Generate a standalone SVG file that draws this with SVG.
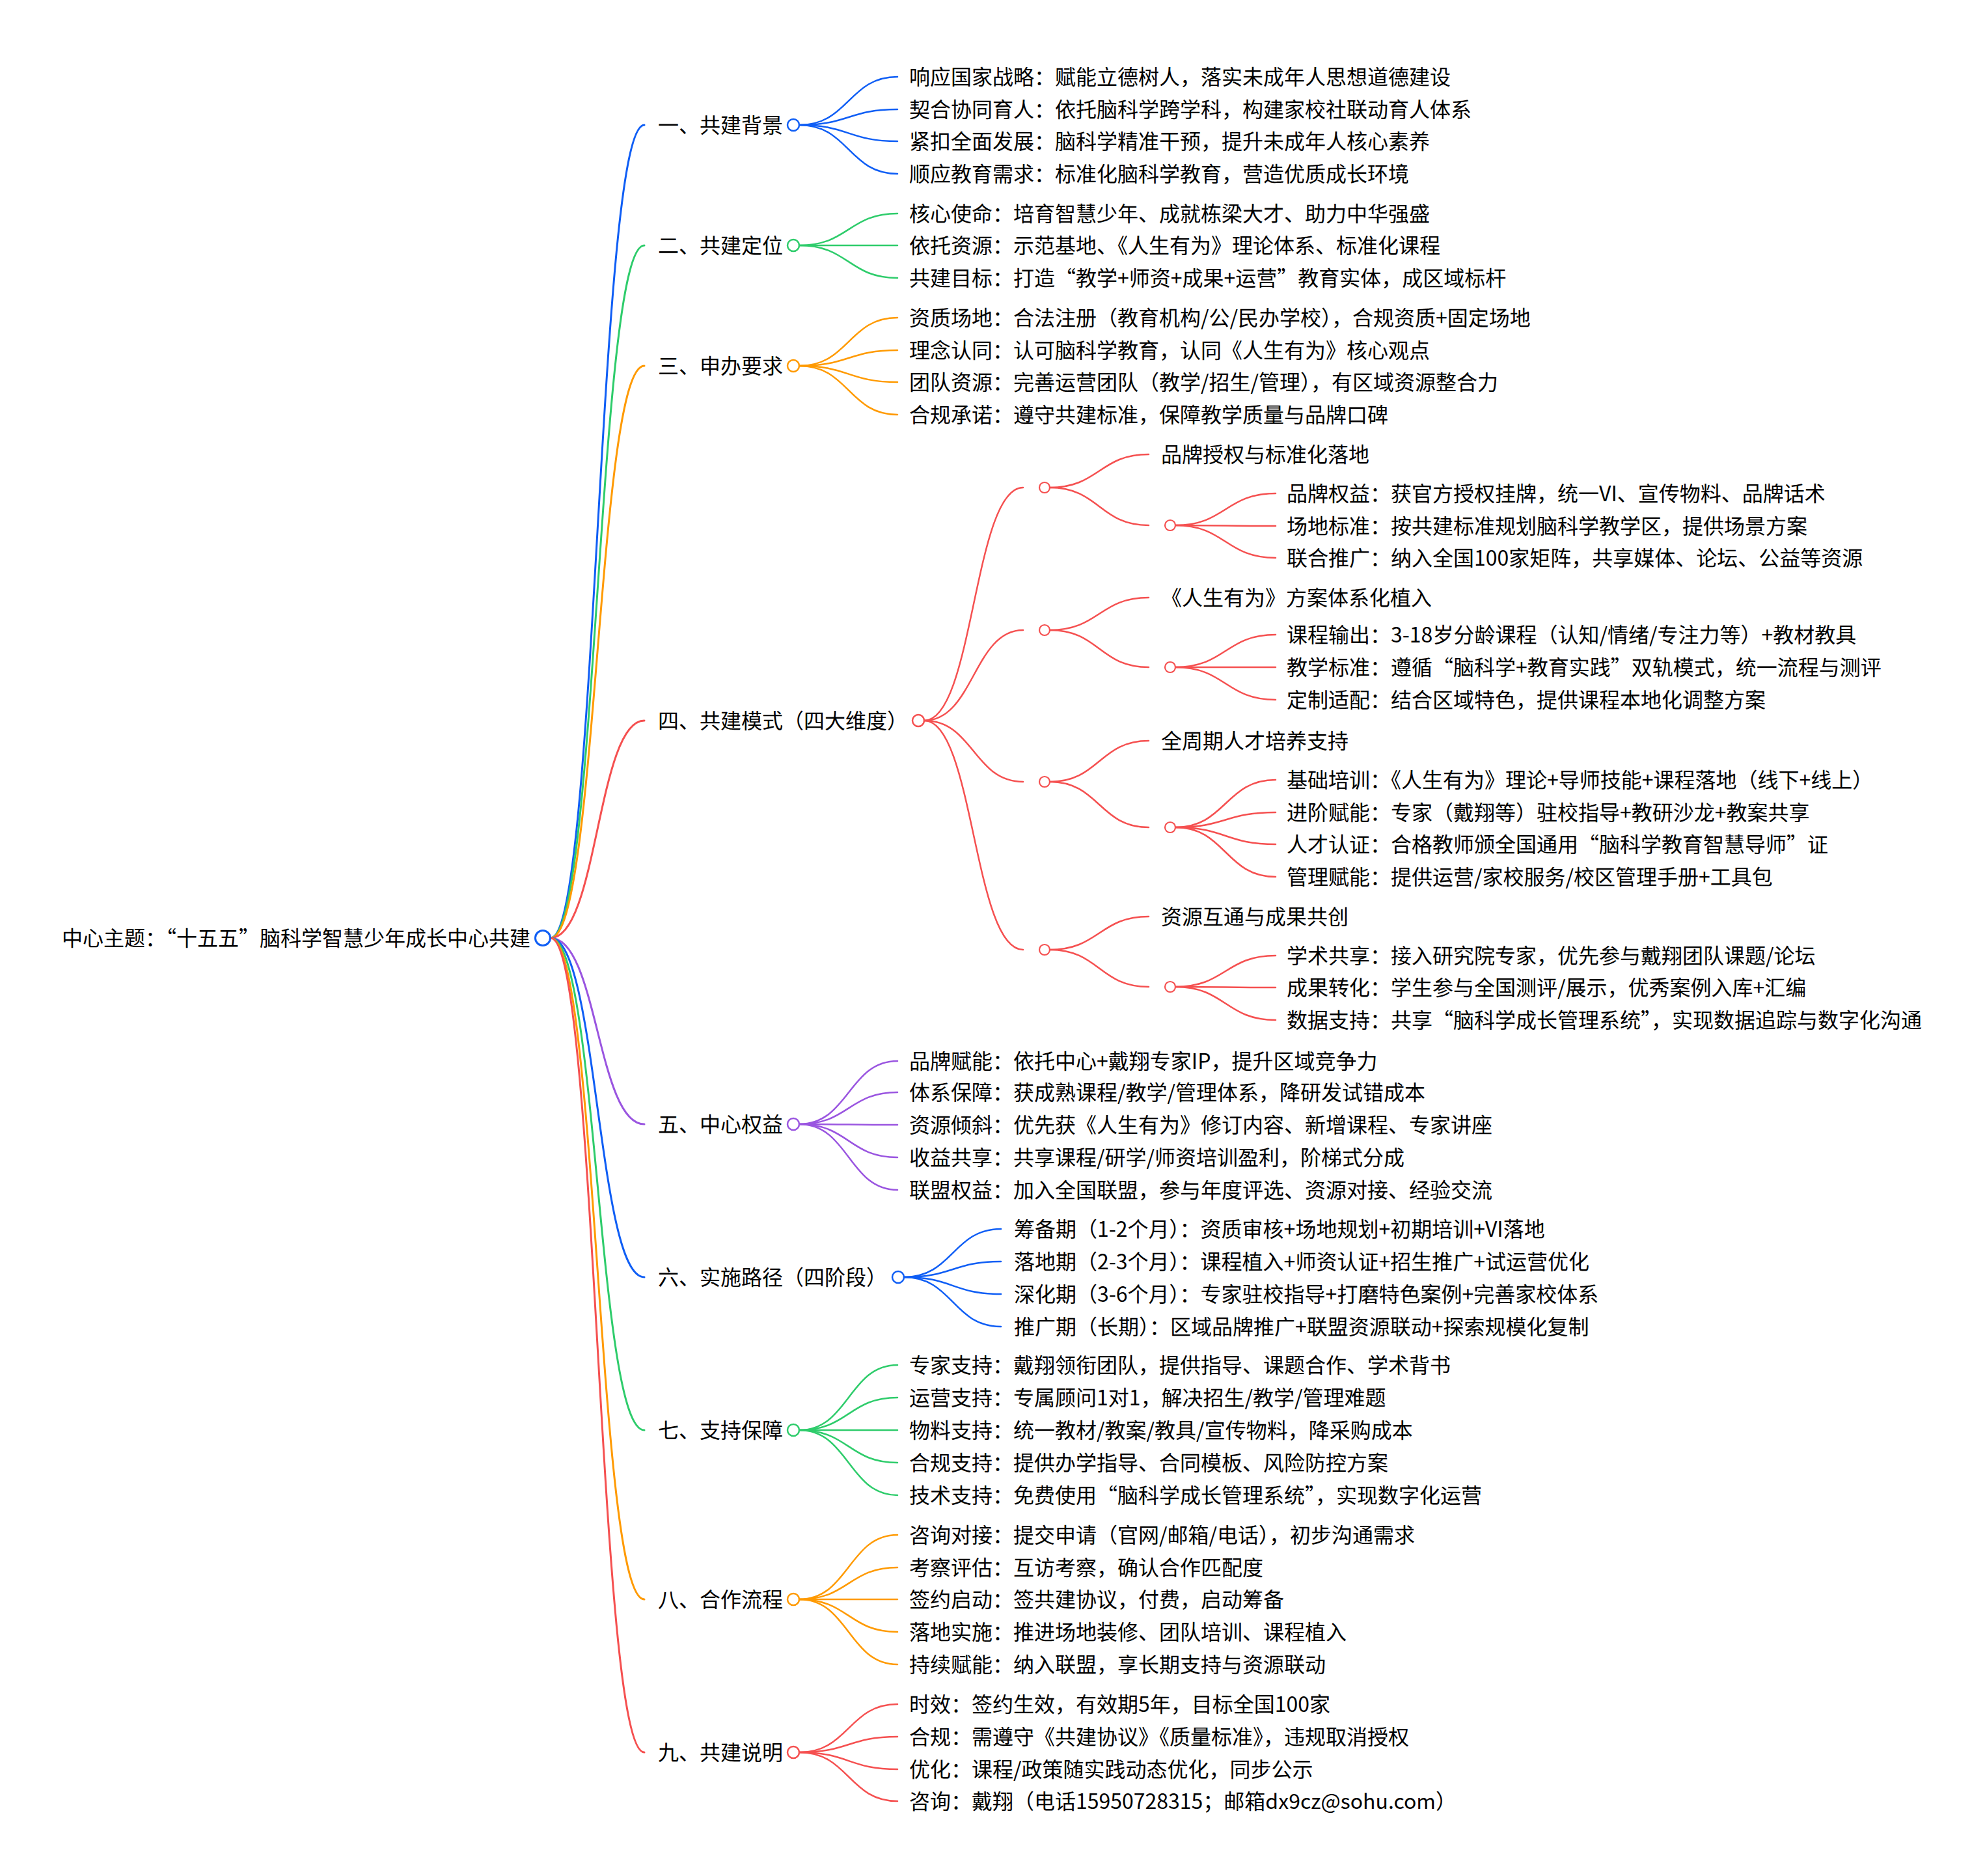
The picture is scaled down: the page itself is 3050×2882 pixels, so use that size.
<svg xmlns="http://www.w3.org/2000/svg" width="3050" height="2882" viewBox="0 0 3050 2882">
<style>
text{font-family:"Noto Sans CJK SC","Noto Sans",sans-serif;font-size:32px;fill:#000}
.l{fill:none;stroke-linecap:round}
.r0{stroke-width:3}
.r1{stroke-width:2.5}
.blue{stroke:#0f5ef5}
.green{stroke:#2ecc6b}
.orange{stroke:#ff9a00}
.red{stroke:#f55050}
.purple{stroke:#9a55e0}
circle{fill:#fff}
.c0{stroke-width:3}
.c1{stroke-width:2.5}
.c2{stroke-width:2.2}
</style>
<rect width="3050" height="2882" fill="#fff"/>
<g id="connectors">
<path class="l r0 blue" d="M846,1441 C918,1441 918,192 990,192"/>
<path class="l r0 green" d="M846,1441 C918,1441 918,377 990,377"/>
<path class="l r0 orange" d="M846,1441 C918,1441 918,562 990,562"/>
<path class="l r0 red" d="M846,1441 C918,1441 918,1107 990,1107"/>
<path class="l r0 purple" d="M846,1441 C918,1441 918,1727 990,1727"/>
<path class="l r0 blue" d="M846,1441 C918,1441 918,1962 990,1962"/>
<path class="l r0 green" d="M846,1441 C918,1441 918,2197 990,2197"/>
<path class="l r0 orange" d="M846,1441 C918,1441 918,2457 990,2457"/>
<path class="l r0 red" d="M846,1441 C918,1441 918,2692 990,2692"/>
<!-- 一 -->
<path class="l r1 blue" d="M1228,192 C1304,192 1304,118 1379,118"/>
<path class="l r1 blue" d="M1228,192 C1304,192 1304,168 1379,168"/>
<path class="l r1 blue" d="M1228,192 C1304,192 1304,217 1379,217"/>
<path class="l r1 blue" d="M1228,192 C1304,192 1304,267 1379,267"/>
<!-- 二 -->
<path class="l r1 green" d="M1228,377 C1304,377 1304,328 1379,328"/>
<path class="l r1 green" d="M1228,377 C1304,377 1304,377 1379,377"/>
<path class="l r1 green" d="M1228,377 C1304,377 1304,427 1379,427"/>
<!-- 三 -->
<path class="l r1 orange" d="M1228,562 C1304,562 1304,488 1379,488"/>
<path class="l r1 orange" d="M1228,562 C1304,562 1304,538 1379,538"/>
<path class="l r1 orange" d="M1228,562 C1304,562 1304,587 1379,587"/>
<path class="l r1 orange" d="M1228,562 C1304,562 1304,637 1379,637"/>
<!-- 四 -->
<path class="l r1 red" d="M1420,1107 C1496,1107 1496,749 1572,749"/>
<path class="l r1 red" d="M1420,1107 C1496,1107 1496,968 1572,968"/>
<path class="l r1 red" d="M1420,1107 C1496,1107 1496,1201 1572,1201"/>
<path class="l r1 red" d="M1420,1107 C1496,1107 1496,1459 1572,1459"/>
<path class="l r1 red" d="M1613,749 C1689,749 1689,698 1765,698"/>
<path class="l r1 red" d="M1613,749 C1689,749 1689,807 1765,807"/>
<path class="l r1 red" d="M1806,807 C1883,807 1883,758 1960,758"/>
<path class="l r1 red" d="M1806,807 C1883,807 1883,808 1960,808"/>
<path class="l r1 red" d="M1806,807 C1883,807 1883,857 1960,857"/>
<path class="l r1 red" d="M1613,968 C1689,968 1689,918 1765,918"/>
<path class="l r1 red" d="M1613,968 C1689,968 1689,1025 1765,1025"/>
<path class="l r1 red" d="M1806,1025 C1883,1025 1883,975 1960,975"/>
<path class="l r1 red" d="M1806,1025 C1883,1025 1883,1025 1960,1025"/>
<path class="l r1 red" d="M1806,1025 C1883,1025 1883,1075 1960,1075"/>
<path class="l r1 red" d="M1613,1201 C1689,1201 1689,1138 1765,1138"/>
<path class="l r1 red" d="M1613,1201 C1689,1201 1689,1271 1765,1271"/>
<path class="l r1 red" d="M1806,1271 C1883,1271 1883,1198 1960,1198"/>
<path class="l r1 red" d="M1806,1271 C1883,1271 1883,1248 1960,1248"/>
<path class="l r1 red" d="M1806,1271 C1883,1271 1883,1297 1960,1297"/>
<path class="l r1 red" d="M1806,1271 C1883,1271 1883,1347 1960,1347"/>
<path class="l r1 red" d="M1613,1459 C1689,1459 1689,1408 1765,1408"/>
<path class="l r1 red" d="M1613,1459 C1689,1459 1689,1516 1765,1516"/>
<path class="l r1 red" d="M1806,1516 C1883,1516 1883,1468 1960,1468"/>
<path class="l r1 red" d="M1806,1516 C1883,1516 1883,1517 1960,1517"/>
<path class="l r1 red" d="M1806,1516 C1883,1516 1883,1567 1960,1567"/>
<!-- 五 -->
<path class="l r1 purple" d="M1228,1727 C1304,1727 1304,1630 1379,1630"/>
<path class="l r1 purple" d="M1228,1727 C1304,1727 1304,1678 1379,1678"/>
<path class="l r1 purple" d="M1228,1727 C1304,1727 1304,1728 1379,1728"/>
<path class="l r1 purple" d="M1228,1727 C1304,1727 1304,1778 1379,1778"/>
<path class="l r1 purple" d="M1228,1727 C1304,1727 1304,1828 1379,1828"/>
<!-- 六 -->
<path class="l r1 blue" d="M1389,1962 C1464,1962 1464,1888 1538,1888"/>
<path class="l r1 blue" d="M1389,1962 C1464,1962 1464,1938 1538,1938"/>
<path class="l r1 blue" d="M1389,1962 C1464,1962 1464,1988 1538,1988"/>
<path class="l r1 blue" d="M1389,1962 C1464,1962 1464,2038 1538,2038"/>
<!-- 七 -->
<path class="l r1 green" d="M1228,2197 C1304,2197 1304,2097 1379,2097"/>
<path class="l r1 green" d="M1228,2197 C1304,2197 1304,2147 1379,2147"/>
<path class="l r1 green" d="M1228,2197 C1304,2197 1304,2197 1379,2197"/>
<path class="l r1 green" d="M1228,2197 C1304,2197 1304,2247 1379,2247"/>
<path class="l r1 green" d="M1228,2197 C1304,2197 1304,2297 1379,2297"/>
<!-- 八 -->
<path class="l r1 orange" d="M1228,2457 C1304,2457 1304,2358 1379,2358"/>
<path class="l r1 orange" d="M1228,2457 C1304,2457 1304,2408 1379,2408"/>
<path class="l r1 orange" d="M1228,2457 C1304,2457 1304,2457 1379,2457"/>
<path class="l r1 orange" d="M1228,2457 C1304,2457 1304,2507 1379,2507"/>
<path class="l r1 orange" d="M1228,2457 C1304,2457 1304,2557 1379,2557"/>
<!-- 九 -->
<path class="l r1 red" d="M1228,2692 C1304,2692 1304,2618 1379,2618"/>
<path class="l r1 red" d="M1228,2692 C1304,2692 1304,2668 1379,2668"/>
<path class="l r1 red" d="M1228,2692 C1304,2692 1304,2718 1379,2718"/>
<path class="l r1 red" d="M1228,2692 C1304,2692 1304,2767 1379,2767"/>
</g>

<g id="root"><text x="815" y="1453" text-anchor="end">中心主题：“十五五”脑科学智慧少年成长中心共建</text><circle class="blue c0" cx="834" cy="1441" r="11.5"/></g>

<g id="b1"><text x="1011" y="204">一、共建背景</text><circle class="blue c1" cx="1219" cy="192" r="9"/></g>
<g id="b1-1"><text x="1397" y="130">响应国家战略：赋能立德树人，落实未成年人思想道德建设</text></g>
<g id="b1-2"><text x="1397" y="180">契合协同育人：依托脑科学跨学科，构建家校社联动育人体系</text></g>
<g id="b1-3"><text x="1397" y="229">紧扣全面发展：脑科学精准干预，提升未成年人核心素养</text></g>
<g id="b1-4"><text x="1397" y="279">顺应教育需求：标准化脑科学教育，营造优质成长环境</text></g>

<g id="b2"><text x="1011" y="389">二、共建定位</text><circle class="green c1" cx="1219" cy="377" r="9"/></g>
<g id="b2-1"><text x="1397" y="340">核心使命：培育智慧少年、成就栋梁大才、助力中华强盛</text></g>
<g id="b2-2"><text x="1397" y="389">依托资源：示范基地、《人生有为》理论体系、标准化课程</text></g>
<g id="b2-3"><text x="1397" y="439">共建目标：打造“教学+师资+成果+运营”教育实体，成区域标杆</text></g>

<g id="b3"><text x="1011" y="574">三、申办要求</text><circle class="orange c1" cx="1219" cy="562" r="9"/></g>
<g id="b3-1"><text x="1397" y="500">资质场地：合法注册（教育机构/公/民办学校），合规资质+固定场地</text></g>
<g id="b3-2"><text x="1397" y="550">理念认同：认可脑科学教育，认同《人生有为》核心观点</text></g>
<g id="b3-3"><text x="1397" y="599">团队资源：完善运营团队（教学/招生/管理），有区域资源整合力</text></g>
<g id="b3-4"><text x="1397" y="649">合规承诺：遵守共建标准，保障教学质量与品牌口碑</text></g>

<g id="b4"><text x="1011" y="1119">四、共建模式（四大维度）</text><circle class="red c1" cx="1411" cy="1107" r="9"/></g>
<g id="b4-1"><circle class="red c2" cx="1605" cy="749" r="8"/></g>
<g id="b4-1-1"><text x="1784" y="710">品牌授权与标准化落地</text></g>
<g id="b4-1-2"><circle class="red c2" cx="1798" cy="807" r="8"/></g>
<g id="b4-1-2-1"><text x="1977" y="770">品牌权益：获官方授权挂牌，统一VI、宣传物料、品牌话术</text></g>
<g id="b4-1-2-2"><text x="1977" y="820">场地标准：按共建标准规划脑科学教学区，提供场景方案</text></g>
<g id="b4-1-2-3"><text x="1977" y="869">联合推广：纳入全国100家矩阵，共享媒体、论坛、公益等资源</text></g>
<g id="b4-2"><circle class="red c2" cx="1605" cy="968" r="8"/></g>
<g id="b4-2-1"><text x="1784" y="930">《人生有为》方案体系化植入</text></g>
<g id="b4-2-2"><circle class="red c2" cx="1798" cy="1025" r="8"/></g>
<g id="b4-2-2-1"><text x="1977" y="987">课程输出：3-18岁分龄课程（认知/情绪/专注力等）+教材教具</text></g>
<g id="b4-2-2-2"><text x="1977" y="1037">教学标准：遵循“脑科学+教育实践”双轨模式，统一流程与测评</text></g>
<g id="b4-2-2-3"><text x="1977" y="1087">定制适配：结合区域特色，提供课程本地化调整方案</text></g>
<g id="b4-3"><circle class="red c2" cx="1605" cy="1201" r="8"/></g>
<g id="b4-3-1"><text x="1784" y="1150">全周期人才培养支持</text></g>
<g id="b4-3-2"><circle class="red c2" cx="1798" cy="1271" r="8"/></g>
<g id="b4-3-2-1"><text x="1977" y="1210">基础培训：《人生有为》理论+导师技能+课程落地（线下+线上）</text></g>
<g id="b4-3-2-2"><text x="1977" y="1260">进阶赋能：专家（戴翔等）驻校指导+教研沙龙+教案共享</text></g>
<g id="b4-3-2-3"><text x="1977" y="1309">人才认证：合格教师颁全国通用“脑科学教育智慧导师”证</text></g>
<g id="b4-3-2-4"><text x="1977" y="1359">管理赋能：提供运营/家校服务/校区管理手册+工具包</text></g>
<g id="b4-4"><circle class="red c2" cx="1605" cy="1459" r="8"/></g>
<g id="b4-4-1"><text x="1784" y="1420">资源互通与成果共创</text></g>
<g id="b4-4-2"><circle class="red c2" cx="1798" cy="1516" r="8"/></g>
<g id="b4-4-2-1"><text x="1977" y="1480">学术共享：接入研究院专家，优先参与戴翔团队课题/论坛</text></g>
<g id="b4-4-2-2"><text x="1977" y="1529">成果转化：学生参与全国测评/展示，优秀案例入库+汇编</text></g>
<g id="b4-4-2-3"><text x="1977" y="1579">数据支持：共享“脑科学成长管理系统”，实现数据追踪与数字化沟通</text></g>

<g id="b5"><text x="1011" y="1739">五、中心权益</text><circle class="purple c1" cx="1219" cy="1727" r="9"/></g>
<g id="b5-1"><text x="1397" y="1642">品牌赋能：依托中心+戴翔专家IP，提升区域竞争力</text></g>
<g id="b5-2"><text x="1397" y="1690">体系保障：获成熟课程/教学/管理体系，降研发试错成本</text></g>
<g id="b5-3"><text x="1397" y="1740">资源倾斜：优先获《人生有为》修订内容、新增课程、专家讲座</text></g>
<g id="b5-4"><text x="1397" y="1790">收益共享：共享课程/研学/师资培训盈利，阶梯式分成</text></g>
<g id="b5-5"><text x="1397" y="1840">联盟权益：加入全国联盟，参与年度评选、资源对接、经验交流</text></g>

<g id="b6"><text x="1011" y="1974">六、实施路径（四阶段）</text><circle class="blue c1" cx="1380" cy="1962" r="9"/></g>
<g id="b6-1"><text x="1558" y="1900">筹备期（1-2个月）：资质审核+场地规划+初期培训+VI落地</text></g>
<g id="b6-2"><text x="1558" y="1950">落地期（2-3个月）：课程植入+师资认证+招生推广+试运营优化</text></g>
<g id="b6-3"><text x="1558" y="2000">深化期（3-6个月）：专家驻校指导+打磨特色案例+完善家校体系</text></g>
<g id="b6-4"><text x="1558" y="2050">推广期（长期）：区域品牌推广+联盟资源联动+探索规模化复制</text></g>

<g id="b7"><text x="1011" y="2209">七、支持保障</text><circle class="green c1" cx="1219" cy="2197" r="9"/></g>
<g id="b7-1"><text x="1397" y="2109">专家支持：戴翔领衔团队，提供指导、课题合作、学术背书</text></g>
<g id="b7-2"><text x="1397" y="2159">运营支持：专属顾问1对1，解决招生/教学/管理难题</text></g>
<g id="b7-3"><text x="1397" y="2209">物料支持：统一教材/教案/教具/宣传物料，降采购成本</text></g>
<g id="b7-4"><text x="1397" y="2259">合规支持：提供办学指导、合同模板、风险防控方案</text></g>
<g id="b7-5"><text x="1397" y="2309">技术支持：免费使用“脑科学成长管理系统”，实现数字化运营</text></g>

<g id="b8"><text x="1011" y="2469">八、合作流程</text><circle class="orange c1" cx="1219" cy="2457" r="9"/></g>
<g id="b8-1"><text x="1397" y="2370">咨询对接：提交申请（官网/邮箱/电话），初步沟通需求</text></g>
<g id="b8-2"><text x="1397" y="2420">考察评估：互访考察，确认合作匹配度</text></g>
<g id="b8-3"><text x="1397" y="2469">签约启动：签共建协议，付费，启动筹备</text></g>
<g id="b8-4"><text x="1397" y="2519">落地实施：推进场地装修、团队培训、课程植入</text></g>
<g id="b8-5"><text x="1397" y="2569">持续赋能：纳入联盟，享长期支持与资源联动</text></g>

<g id="b9"><text x="1011" y="2704">九、共建说明</text><circle class="red c1" cx="1219" cy="2692" r="9"/></g>
<g id="b9-1"><text x="1397" y="2630">时效：签约生效，有效期5年，目标全国100家</text></g>
<g id="b9-2"><text x="1397" y="2680">合规：需遵守《共建协议》《质量标准》，违规取消授权</text></g>
<g id="b9-3"><text x="1397" y="2730">优化：课程/政策随实践动态优化，同步公示</text></g>
<g id="b9-4"><text x="1397" y="2779">咨询：戴翔（电话15950728315；邮箱dx9cz@sohu.com）</text></g>
</svg>
